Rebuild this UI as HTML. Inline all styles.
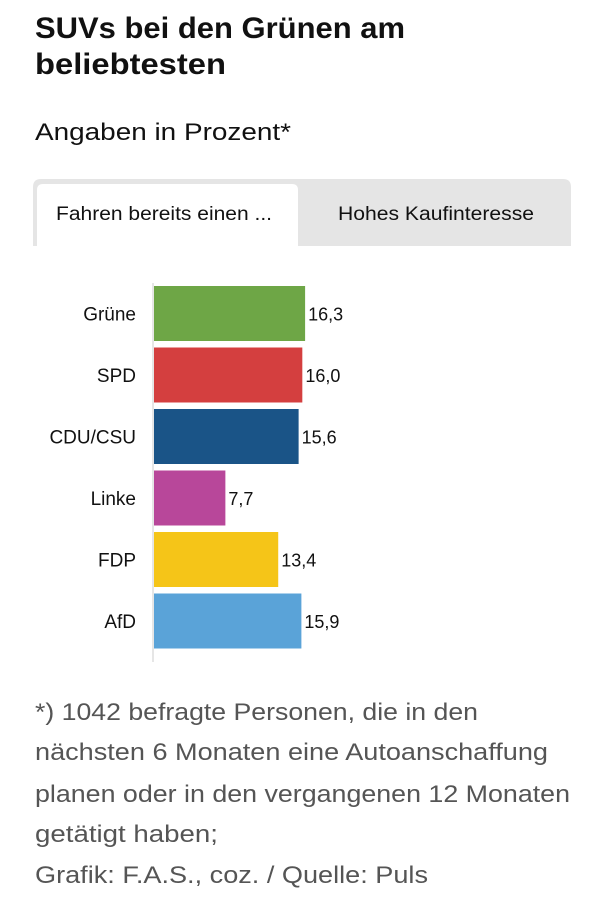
<!DOCTYPE html>
<html><head><meta charset="utf-8"><style>
html,body{margin:0;padding:0;background:#fff;width:605px;height:900px;overflow:hidden}
svg{display:block;font-family:"Liberation Sans",sans-serif}
</style></head><body>
<svg id="chart" width="605" height="900" viewBox="0 0 605 900">
<text x="35" y="38" font-size="30" font-weight="bold" fill="#111" textLength="370" lengthAdjust="spacingAndGlyphs">SUVs bei den Grünen am</text>
<text x="35" y="74" font-size="30" font-weight="bold" fill="#111" textLength="191" lengthAdjust="spacingAndGlyphs">beliebtesten</text>
<text x="35" y="140" font-size="24" fill="#111" textLength="256" lengthAdjust="spacingAndGlyphs">Angaben in Prozent*</text>
<path d="M33,246 V187 Q33,179 41,179 H563 Q571,179 571,187 V246 Z" fill="#e5e5e5"/>
<g>
<path d="M37,246 V190 Q37,184 43,184 H292 Q298,184 298,190 V246 Z" fill="#fff"/>
<text x="56" y="220" font-size="19" fill="#111" textLength="216" lengthAdjust="spacingAndGlyphs">Fahren bereits einen ...</text>
</g>
<g>
<text x="338" y="220" font-size="19" fill="#111" textLength="196" lengthAdjust="spacingAndGlyphs">Hohes Kaufinteresse</text>
</g>
<line x1="153" y1="283" x2="153" y2="662" stroke="#ddd" stroke-width="1.5"/>
<g id="bars"></g>
<g fill="#555" font-size="24">
<text x="35" y="720" textLength="443" lengthAdjust="spacingAndGlyphs">*) 1042 befragte Personen, die in den</text>
<text x="35" y="760" textLength="513" lengthAdjust="spacingAndGlyphs">nächsten 6 Monaten eine Autoanschaffung</text>
<text x="35" y="802" textLength="535" lengthAdjust="spacingAndGlyphs">planen oder in den vergangenen 12 Monaten</text>
<text x="35" y="842" textLength="183" lengthAdjust="spacingAndGlyphs">getätigt haben;</text>
<text x="35" y="883" textLength="393" lengthAdjust="spacingAndGlyphs">Grafik: F.A.S., coz. / Quelle: Puls</text>
</g>
</svg>
<script>
const categories = ["Grüne","SPD","CDU/CSU","Linke","FDP","AfD"];
const values = [16.3,16.0,15.6,7.7,13.4,15.9];
const labels = ["16,3","16,0","15,6","7,7","13,4","15,9"];
const colors = ["#6ea646","#d43f3f","#1a5487","#b8479a","#f5c518","#5aa3d8"];
const NS="http://www.w3.org/2000/svg";
const x0=154, pxPer=9.27;
function xScale(v){return x0+v*pxPer;}
function yScale(i){return 286+i*61.5;}
const g=document.getElementById('bars');
categories.forEach((c,i)=>{
  const y=yScale(i), h=55;
  const r=document.createElementNS(NS,'rect');
  r.setAttribute('x',x0);r.setAttribute('y',y);
  r.setAttribute('width',xScale(values[i])-x0);r.setAttribute('height',h);
  r.setAttribute('fill',colors[i]);
  
  
  g.appendChild(r);
  const t=document.createElementNS(NS,'text');
  t.setAttribute('x',136);t.setAttribute('y',y+h/2+7);
  t.setAttribute('text-anchor','end');t.setAttribute('font-size','19');t.setAttribute('fill','#111');
  t.textContent=c;
  
  
  g.appendChild(t);
  const v=document.createElementNS(NS,'text');
  v.setAttribute('x',xScale(values[i])+3);v.setAttribute('y',y+h/2+7);
  v.setAttribute('font-size','18');v.setAttribute('fill','#111');
  v.textContent=labels[i];
  
  
  g.appendChild(v);
});
</script>
</body></html>
